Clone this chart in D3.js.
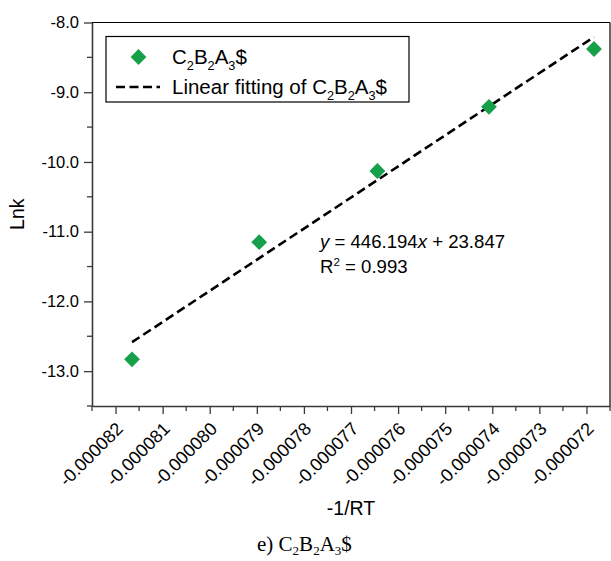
<!DOCTYPE html>
<html><head><meta charset="utf-8">
<script src="https://cdn.jsdelivr.net/npm/d3@7"></script>
<style>
html,body{margin:0;padding:0;background:#fff;}
svg{display:block;}
text{font-family:"Liberation Sans",Arial,sans-serif;fill:#000;}
</style></head>
<body>
<svg id="chart" width="611" height="561"></svg>
<script>
// ---- data ----
const seriesName = "C2B2A3$";
const xValues = [-0.00008165, -0.00007895, -0.00007644, -0.00007407, -0.00007184];
const lnkValues = [-12.83, -11.15, -10.13, -9.21, -8.38];
const fitSlope = 446194;
const fitIntercept = 23.847;
const xTickValues = [-0.000082,-0.000081,-0.000080,-0.000079,-0.000078,-0.000077,-0.000076,-0.000075,-0.000074,-0.000073,-0.000072];
const yTickValues = [-8.0,-9.0,-10.0,-11.0,-12.0,-13.0];
const xMinorTicks = [-0.0000825,-0.0000815,-0.0000805,-0.0000795,-0.0000785,-0.0000775,-0.0000765,-0.0000755,-0.0000745,-0.0000735,-0.0000725,-0.0000715];
const yMinorTicks = [-8.5,-9.5,-10.5,-11.5,-12.5,-13.5];

const svg = d3.select("#chart");
const L = 92, R = 610, T = 22.5, B = 406;
const x = d3.scaleLinear().domain([-0.0000825, -0.0000715]).range([L, R]);
const y = d3.scaleLinear().domain([-13.5, -8.0]).range([B, T]);
const green = "#16a04a";
const axisCol = "#3a3a3a";
const hy = f => d => f(d).replace("\u2212", "-");

// frame top/right
svg.append("line").attr("x1", L).attr("x2", R).attr("y1", T).attr("y2", T).attr("stroke", "#000").attr("stroke-width", 1.2);
svg.append("line").attr("x1", R).attr("x2", R).attr("y1", T).attr("y2", B).attr("stroke", "#000").attr("stroke-width", 1.2);

// x axis
const gx = svg.append("g").attr("transform", `translate(0,${B})`);
gx.call(d3.axisBottom(x).tickValues(xTickValues).tickFormat(hy(d3.format(".6f"))).tickSize(8).tickSizeOuter(0));
gx.select(".domain").attr("stroke", axisCol).attr("stroke-width", 1.6);
gx.selectAll(".tick line").attr("stroke", axisCol).attr("stroke-width", 1.3);
gx.selectAll(".tick text")
  .attr("font-size", 18).attr("font-family", "Liberation Sans, Arial, sans-serif")
  .attr("text-anchor", "end")
  .attr("x", 0).attr("y", 0).attr("dy", 0)
  .attr("transform", "translate(8,24) rotate(-45)");
gx.selectAll(".minor").data(xMinorTicks).enter().append("line")
  .attr("x1", d => x(d)).attr("x2", d => x(d)).attr("y1", 0).attr("y2", 5)
  .attr("stroke", axisCol).attr("stroke-width", 1.3);

// y axis
const gy = svg.append("g").attr("transform", `translate(${L},0)`);
gy.call(d3.axisLeft(y).tickValues(yTickValues).tickFormat(hy(d3.format(".1f"))).tickSize(8).tickSizeOuter(0).tickPadding(5));
gy.select(".domain").attr("stroke", axisCol).attr("stroke-width", 1.6);
gy.selectAll(".tick line").attr("stroke", axisCol).attr("stroke-width", 1.3);
gy.selectAll(".tick text").attr("font-size", 16.5).attr("font-family", "Liberation Sans, Arial, sans-serif");
gy.selectAll(".minor").data(yMinorTicks).enter().append("line")
  .attr("x1", 0).attr("x2", -5).attr("y1", d => y(d)).attr("y2", d => y(d))
  .attr("stroke", axisCol).attr("stroke-width", 1.3);

// axis titles
svg.append("text").attr("x", 351).attr("y", 515).attr("text-anchor", "middle").attr("font-size", 19.5).text("-1/RT");
svg.append("text").attr("transform", `translate(24,${(T + B) / 2}) rotate(-90)`).attr("text-anchor", "middle").attr("font-size", 19.5).text("Lnk");

// fit line
const xExt = d3.extent(xValues);
svg.append("line")
  .attr("x1", x(xExt[0])).attr("y1", y(fitSlope * xExt[0] + fitIntercept))
  .attr("x2", x(xExt[1])).attr("y2", y(fitSlope * xExt[1] + fitIntercept))
  .attr("stroke", "#000").attr("stroke-width", 2.6).attr("stroke-dasharray", "9,4.5");

// points
const diamond = d3.symbol().type(d3.symbolSquare).size(125);
svg.selectAll(".pt").data(xValues.map((v, i) => [v, lnkValues[i]])).enter().append("path")
  .attr("d", diamond)
  .attr("transform", d => `translate(${x(d[0])},${y(d[1])}) rotate(45)`)
  .attr("fill", green);

// equation
const eqSize = 18.6;
const eq = svg.append("text").attr("x", 320).attr("y", 248).attr("font-size", eqSize);
eq.append("tspan").attr("font-style", "italic").text("y");
eq.append("tspan").text(" = 446.194");
eq.append("tspan").attr("font-style", "italic").text("x");
eq.append("tspan").text(" + 23.847");
const r2 = svg.append("text").attr("x", 320).attr("y", 273).attr("font-size", eqSize);
r2.append("tspan").text("R");
r2.append("tspan").attr("font-size", 11.5).attr("dy", -7.5).text("2");
r2.append("tspan").attr("dy", 7.5).text(" = 0.993");

// legend
svg.append("rect").attr("x", 106).attr("y", 36.5).attr("width", 303).attr("height", 65.5)
  .attr("fill", "#fff").attr("stroke", "#000").attr("stroke-width", 1.2);
svg.append("path").attr("d", diamond).attr("transform", "translate(138.5,57) rotate(45)").attr("fill", green);
svg.append("line").attr("x1", 116).attr("x2", 160).attr("y1", 87).attr("y2", 87)
  .attr("stroke", "#000").attr("stroke-width", 2.6).attr("stroke-dasharray", "9,4.5");

function chem(sel, parts, base, shift) {
  parts.forEach(p => {
    if (p.sub) sel.append("tspan").attr("font-size", base * 0.62).attr("dy", base * shift).text(p.t);
    else sel.append("tspan").attr("dy", p.after ? -base * shift : 0).text(p.t);
  });
}
const formula = [{t:"C"},{t:"2",sub:true},{t:"B",after:true},{t:"2",sub:true},{t:"A",after:true},{t:"3",sub:true},{t:"$",after:true}];
const legSize = 20.5;
const l1 = svg.append("text").attr("x", 172).attr("y", 64).attr("font-size", legSize);
chem(l1, formula, legSize, 0.28);
const l2 = svg.append("text").attr("x", 172).attr("y", 94).attr("font-size", legSize);
l2.append("tspan").text("Linear fitting of ");
chem(l2, formula, legSize, 0.28);

// caption
const capSize = 21;
const cap = svg.append("text").attr("x", 257).attr("y", 551).attr("font-size", capSize)
  .style("font-family", "Liberation Serif, Times New Roman, serif");
cap.append("tspan").text("e) ");
chem(cap, formula, capSize, 0.2);
</script>
</body></html>
